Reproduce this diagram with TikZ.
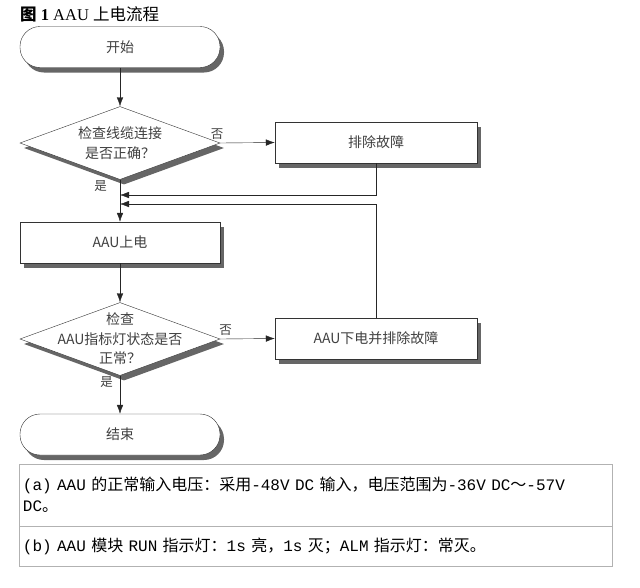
\documentclass[tikz,border=0pt]{standalone}
\usepackage{fontspec}
\setmainfont{Liberation Serif}
\newfontfamily\cjk{Noto Sans CJK SC}
\newfontfamily\notemono{Liberation Mono}
\newcommand\lat[1]{{\notemono #1}}
\usetikzlibrary{shapes.geometric,shadows,arrows.meta}

\begin{document}
\begin{tikzpicture}[x=1pt, y=-1pt,
        font=\cjk\fontsize{14}{19.5}\selectfont,
        shadowed/.style={drop shadow={shadow xshift=4pt, shadow yshift=-5pt, fill=black!60, opacity=1}},
        terminal/.style={draw=black!80, fill=white, rounded corners=20pt, minimum width=200pt, minimum height=41pt, shadowed, text=black!75},
        process/.style={draw=black!80, fill=white, minimum width=200pt, minimum height=41pt, shadowed, text=black!75},
        decision/.style={diamond, draw=black!80, fill=white, minimum width=200pt, minimum height=73pt, inner sep=0pt, shadowed},
        flow/.style={draw=black!85, -{Latex[length=9pt,width=6.5pt]}},
        answer/.style={text=black!75, inner sep=1pt, font=\cjk\fontsize{12.5}{14}\selectfont},
        noterow/.style={draw=black!30, outer sep=0pt, minimum width=593pt, text width=585pt, align=left, inner xsep=4pt, anchor=north west, font=\cjk\fontsize{16}{21}\selectfont}]
    \useasboundingbox (0,0) rectangle (640,587);

    % title
    \node[anchor=west, inner sep=0pt, font=\fontsize{16.5}{19}\selectfont] (title) at (20,14)
        {{\cjk\bfseries 图} {\bfseries 1} AAU {\cjk 上电流程}};

    % flow chart
    \node[terminal] (start) at (120,47) {开始};
    \node[decision, label={[align=center, text=black!75]center:{检查线缆连接\\是否正确？}}] (check) at (120,143) {};
    \node[process, minimum width=202pt] (fix) at (376,142.5) {排除故障};
    \node[process] (power) at (120,242.5) {AAU上电};
    \node[decision, label={[align=center, text=black!75]center:{检查\\AAU指标灯状态是否\\正常？}}] (lamp) at (120,339) {};
    \node[process, minimum width=202pt] (off) at (376,338.5) {AAU下电并排除故障};
    \node[terminal] (end) at (120,434.5) {结束};

    \coordinate (back1) at (120,195);
    \coordinate (back2) at (120,204);

    \draw[flow] (start) -- (check);
    \draw[flow] (check.east) -- (fix.west) node[answer, pos=0, above, xshift=-3pt, yshift=2pt] {否};
    \draw[flow] (check) -- (power) node[answer, pos=0, below left, xshift=-12pt] {是};
    \draw[flow] (fix.south) |- (back1);
    \draw[flow] (power) -- (lamp);
    \draw[flow] (lamp.east) -- (off.west) node[answer, pos=0, above right, xshift=-2pt, yshift=2pt] {否};
    \draw[flow] (lamp) -- (end) node[answer, pos=0, below left, xshift=-6pt] {是};
    \draw[flow] (off.north) |- (back2);

    % notes
    \node[noterow, minimum height=62pt] (notea) at (19,464)
        {\lat{(a) AAU }的正常输入电压：采用\lat{-48V DC }输入，电压范围为\lat{-36V DC}～\lat{-57V}\\\lat{DC}。};
    \node[noterow, minimum height=40pt] (noteb) at (notea.south west)
        {\lat{(b) AAU }模块\lat{ RUN }指示灯：\lat{1s }亮，\lat{1s }灭；\lat{ALM }指示灯：常灭。};
\end{tikzpicture}
\end{document}
